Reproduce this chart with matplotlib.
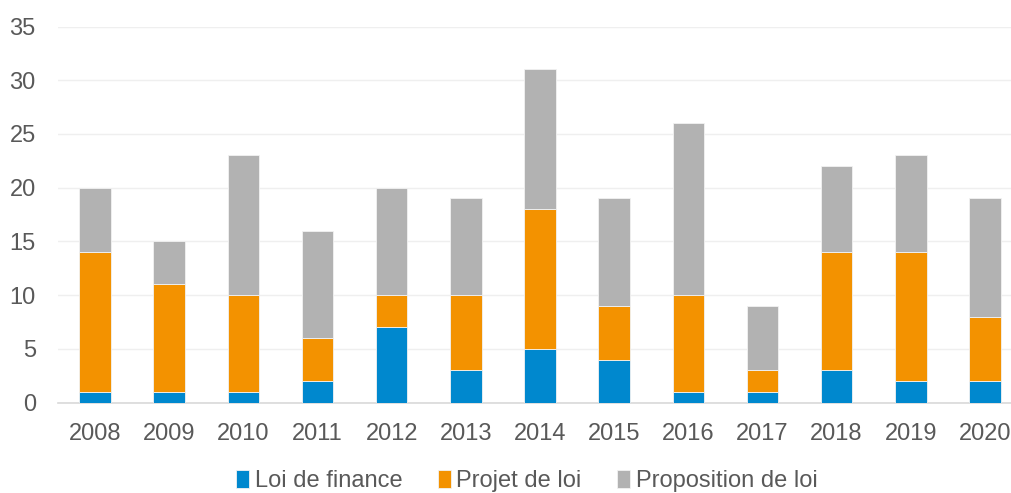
import matplotlib
matplotlib.use("Agg")
import matplotlib.pyplot as plt
import numpy as np

years = ["2008", "2009", "2010", "2011", "2012", "2013", "2014", "2015", "2016", "2017", "2018", "2019", "2020"]
loi_finance = [1, 1, 1, 2, 7, 3, 5, 4, 1, 1, 3, 2, 2]
projet_loi = [13, 10, 9, 4, 3, 7, 13, 5, 9, 2, 11, 12, 6]
proposition_loi = [6, 4, 13, 10, 10, 9, 13, 10, 16, 6, 8, 9, 11]
series_names = ["Loi de finance", "Projet de loi", "Proposition de loi"]
colors = ["#0088CE", "#F39200", "#B2B2B2"]

plt.rcParams['font.family'] = ['Liberation Sans', 'DejaVu Sans']
txt = "#595959"

fig = plt.figure(figsize=(10.11, 4.93), dpi=100)
ax = fig.add_axes([58/1011, (493-402.5)/493, (1022-58)/1011, 376/493])

x = np.arange(len(years))
w = 0.425
bottom = np.zeros(len(years))
for vals, name, c in zip([loi_finance, projet_loi, proposition_loi], series_names, colors):
    ax.bar(x, vals, w, bottom=bottom, color=c, label=name, edgecolor='#f2f2f2', linewidth=0.6, zorder=3)
    bottom += np.array(vals)

ax.set_xlim(-0.5, len(years) - 0.5)
ax.set_ylim(0, 35)
ax.set_yticks(range(0, 36, 5))
ax.set_xticks(x)
ax.set_xticklabels(years)
ax.grid(axis='y', color='#EFEFEF', linewidth=1, zorder=0)
for s in ['top', 'right', 'left']:
    ax.spines[s].set_visible(False)
ax.spines['bottom'].set_color('#D9D9D9')
ax.spines['bottom'].set_linewidth(1.2)
ax.tick_params(axis='both', length=0, labelsize=17, labelcolor=txt)
ax.tick_params(axis='y', pad=16)
ax.tick_params(axis='x', pad=15)

fig.legend(loc='center', bbox_to_anchor=(0.521, 0.024), ncol=3, frameon=False,
           fontsize=17, labelcolor=txt, handlelength=0.55, handleheight=0.75,
           handletextpad=0.25, columnspacing=1.5, borderaxespad=0, borderpad=0)

fig.savefig("out.png", dpi=100)
